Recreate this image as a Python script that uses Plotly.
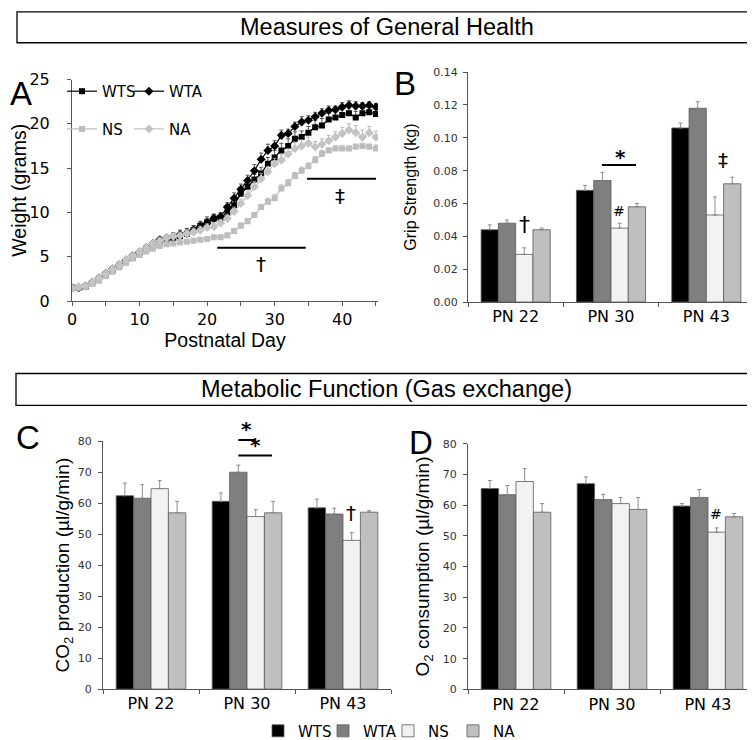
import plotly.graph_objects as go

# ---------------- DATA ----------------
days = list(range(0, 46))
weight_wts = [1.5, 1.5, 1.6, 2.0, 2.5, 3.0, 3.5, 4.0, 4.5, 5.0, 5.4, 5.9,
              6.3, 6.7, 6.9, 7.1, 7.3, 7.6, 8.0, 8.5, 8.9,
              9.3, 9.4, 10.0, 10.8, 12.1, 12.9, 13.7, 14.4, 15.5, 16.2,
              17.0, 17.5, 18.3, 18.5, 19.0, 19.6, 19.8, 20.5, 20.7, 21.0, 21.2, 20.7, 21.2, 21.3, 21.1]
weight_wta = [1.5, 1.5, 1.7, 2.1, 2.6, 3.1, 3.6, 4.1, 4.6, 5.1, 5.5, 6.0,
              6.5, 6.9, 7.1, 7.3, 7.5, 7.6, 8.0, 8.4, 8.8,
              9.3, 9.5, 10.6, 11.6, 12.6, 13.6, 14.7, 16.0, 17.0, 17.5,
              18.7, 18.9, 19.7, 20.2, 20.4, 20.8, 21.2, 21.5, 21.6, 21.9, 22.1, 22.0, 22.0, 22.1, 21.9]
weight_ns = [1.4, 1.5, 1.6, 1.9, 2.3, 2.8, 3.3, 3.8, 4.3, 4.8, 5.2, 5.6,
             5.9, 6.2, 6.4, 6.5, 6.6, 6.7, 6.8, 6.9, 7.0,
             7.2, 7.2, 7.4, 7.9, 8.5, 9.0, 9.7, 10.6, 11.2, 11.6,
             12.7, 13.3, 14.1, 14.7, 15.2, 15.9, 16.6, 17.0, 17.2, 17.2, 17.2, 17.4, 17.5, 17.4, 17.2]
weight_na = [1.5, 1.6, 1.7, 2.1, 2.6, 3.1, 3.6, 4.1, 4.7, 5.1, 5.6, 6.0,
             6.5, 6.8, 7.1, 7.3, 7.4, 7.6, 7.8, 8.0, 8.3,
             8.4, 8.8, 9.3, 10.1, 11.0, 11.9, 12.9, 13.8, 14.6, 15.5,
             15.9, 16.6, 17.2, 17.5, 17.8, 17.4, 17.7, 18.1, 18.5, 18.9, 19.3, 19.0, 18.5, 19.0, 18.5]
weight_wts_err = [0.2, 0.2, 0.2, 0.2, 0.2, 0.2, 0.3, 0.3, 0.3, 0.3, 0.3, 0.3,
                  0.3, 0.3, 0.3, 0.4, 0.4, 0.5, 0.5, 0.5, 0.6,
                  0.5, 0.5, 0.5, 0.6, 0.6, 0.6, 0.6, 0.7, 0.7, 0.8,
                  0.8, 0.8, 0.8, 0.7, 0.7, 0.8, 0.8, 0.7, 0.7, 0.6, 0.6, 0.7, 0.6, 0.6, 0.5]
weight_wta_err = [0.2, 0.2, 0.2, 0.2, 0.2, 0.3, 0.3, 0.3, 0.3, 0.3, 0.3, 0.3,
                  0.3, 0.3, 0.3, 0.4, 0.5, 0.6, 0.5, 0.5, 0.5,
                  0.5, 0.5, 0.5, 0.6, 0.6, 0.6, 0.7, 0.7, 0.7, 0.6,
                  0.6, 0.5, 0.5, 0.6, 0.5, 0.5, 0.5, 0.5, 0.4, 0.5, 0.5, 0.5, 0.4, 0.4, 0.4]
weight_ns_err = [0.2, 0.2, 0.2, 0.2, 0.2, 0.2, 0.2, 0.2, 0.2, 0.2, 0.2, 0.2,
                 0.2, 0.2, 0.2, 0.2, 0.2, 0.2, 0.2, 0.2, 0.2,
                 0.2, 0.2, 0.3, 0.3, 0.3, 0.3, 0.3, 0.3, 0.4, 0.4,
                 0.4, 0.4, 0.4, 0.4, 0.4, 0.4, 0.4, 0.3, 0.3, 0.3, 0.3, 0.3, 0.3, 0.3, 0.4]
weight_na_err = [0.2, 0.2, 0.2, 0.2, 0.2, 0.2, 0.3, 0.3, 0.3, 0.3, 0.3, 0.3,
                 0.3, 0.3, 0.3, 0.3, 0.3, 0.3, 0.4, 0.4, 0.4,
                 0.4, 0.4, 0.5, 0.5, 0.5, 0.5, 0.6, 0.6, 0.6, 0.6,
                 0.6, 0.6, 0.7, 0.7, 0.7, 0.6, 0.6, 0.6, 0.6, 0.7, 0.7, 0.8, 0.8, 0.7, 0.7]

ages = ["PN 22", "PN 30", "PN 43"]
groups = ["WTS", "WTA", "NS", "NA"]

grip = {"WTS": [0.044, 0.068, 0.106], "WTA": [0.048, 0.074, 0.118],
        "NS": [0.029, 0.045, 0.053], "NA": [0.044, 0.058, 0.072]}
grip_err = {"WTS": [0.003, 0.003, 0.003], "WTA": [0.002, 0.005, 0.004],
            "NS": [0.004, 0.003, 0.011], "NA": [0.001, 0.002, 0.004]}

co2 = {"WTS": [62.4, 60.6, 58.5], "WTA": [61.6, 70.0, 56.5],
       "NS": [64.7, 55.7, 48.0], "NA": [56.9, 56.9, 57.1]}
co2_err = {"WTS": [4.1, 2.7, 2.8], "WTA": [4.4, 2.3, 1.9],
           "NS": [2.6, 2.2, 2.5], "NA": [3.7, 3.7, 0.5]}

o2 = {"WTS": [65.4, 67.0, 59.7], "WTA": [63.4, 61.8, 62.5],
      "NS": [67.7, 60.5, 51.2], "NA": [57.7, 58.6, 56.2]}
o2_err = {"WTS": [2.6, 2.2, 0.8], "WTA": [3.0, 1.7, 2.6],
          "NS": [4.2, 2.0, 1.4], "NA": [2.8, 3.9, 1.1]}

# ---------------- STYLE ----------------
W, H = 755, 740
bar_colors = {"WTS": "#000000", "WTA": "#7f7f7f", "NS": "#f2f2f2", "NA": "#bfbfbf"}
SANS = "Liberation Sans, Arial, sans-serif"
VERD = "DejaVu Sans, Verdana, sans-serif"
CO2_MAX = 80


def hx(p):
    return p / W


def vy(p):
    return 1 - p / H


fig = go.Figure()

# ---- Panel A: weight curves ----
line_specs = [
    ("WTS", weight_wts, weight_wts_err, "#000000", "square", "legend", "#303030"),
    ("WTA", weight_wta, weight_wta_err, "#000000", "diamond", "legend2", "#303030"),
    ("NS", weight_ns, weight_ns_err, "#bdbdbd", "square", "legend3", "#a8a8a8"),
    ("NA", weight_na, weight_na_err, "#c4c4c4", "diamond", "legend4", "#a8a8a8"),
]
for name, vals, err, col, sym, leg, ecol in line_specs:
    fig.add_trace(go.Scatter(
        x=days, y=vals, name=name, mode="lines+markers",
        line=dict(color=col, width=1.2),
        marker=dict(symbol=sym, size=6 if sym == "square" else 7, color=col),
        error_y=dict(type="data", array=err, arrayminus=[0] * len(err), symmetric=False,
                     color=ecol, thickness=0.8, width=2),
        xaxis="x", yaxis="y", legend=leg, showlegend=True,
    ))

# ---- Bars: B, C, D ----
panels = [("x2", "y2", grip, grip_err, False),
          ("x3", "y3", co2, co2_err, True),
          ("x4", "y4", o2, o2_err, False)]
for xa, ya, data, errs, show in panels:
    for g in groups:
        fig.add_trace(go.Bar(
            x=ages, y=data[g], name=g,
            marker=dict(color=bar_colors[g], line=dict(color="#5a5a5a", width=0.8)),
            error_y=dict(type="data", array=errs[g], arrayminus=[0] * len(errs[g]),
                         symmetric=False, color="#808080", thickness=0.9, width=2),
            xaxis=xa, yaxis=ya, legend="legend5", showlegend=show,
        ))

axis_common = dict(showline=True, linecolor="#555555", linewidth=1, ticks="outside",
                   ticklen=4, tickcolor="#555555", showgrid=False, zeroline=False,
                   automargin=False)
small_tick = dict(family=VERD, size=11, color="#333333")
cat_tick = dict(family=VERD, size=16, color="black")
title_a = dict(family=SANS, size=19.5, color="black")
title_b = dict(family=SANS, size=16, color="black")
title_cd = dict(family=SANS, size=19, color="black")

fig.update_layout(
    width=W, height=H, margin=dict(l=0, r=0, t=0, b=0),
    paper_bgcolor="white", plot_bgcolor="white",
    barmode="group", bargap=0.275, bargroupgap=0,
    font=dict(family=VERD, color="black"),
    xaxis=dict(domain=[hx(64), hx(370)], anchor="y", range=[0, 45.3],
               tickmode="linear", tick0=0, dtick=10,
               minor=dict(ticks="outside", dtick=5, ticklen=4, tickcolor="#555555"),
               tickfont=dict(family=VERD, size=16, color="black"),
               title=dict(text="Postnatal Day", font=title_a, standoff=0),
               **axis_common),
    yaxis=dict(domain=[vy(295), vy(72)], anchor="x", range=[0, 25], dtick=5,
               tickfont=dict(family=VERD, size=16, color="black"), ticklabelstandoff=14,
               title=dict(text="Weight (grams)", font=title_a, standoff=0),
               **axis_common),
    xaxis2=dict(domain=[hx(460), hx(746)], anchor="y2", type="category",
                tickson="boundaries", tickfont=cat_tick, **axis_common),
    yaxis2=dict(domain=[vy(296), vy(64.6)], anchor="x2", range=[0, 0.14], dtick=0.02,
                tickformat=".2f", tickfont=small_tick, ticklabelstandoff=3,
                title=dict(text="Grip Strength (kg)", font=title_b, standoff=12),
                **axis_common),
    xaxis3=dict(domain=[hx(95), hx(383)], anchor="y3", type="category",
                tickson="boundaries", tickfont=cat_tick, **axis_common),
    yaxis3=dict(domain=[vy(685.7), vy(436.2)], anchor="x3", range=[0, CO2_MAX], dtick=10,
                tickfont=small_tick, ticklabelstandoff=4,
                title=dict(text="CO<sub>2</sub> production (µl/g/min)", font=title_cd, standoff=3),
                **axis_common),
    xaxis4=dict(domain=[hx(460), hx(748)], anchor="y4", type="category",
                tickson="boundaries", tickfont=cat_tick, **axis_common),
    yaxis4=dict(domain=[vy(686), vy(438.7)], anchor="x4", range=[0, 80], dtick=10,
                tickfont=small_tick, ticklabelstandoff=4,
                title=dict(text="O<sub>2</sub> consumption (µl/g/min)", font=title_cd, standoff=8),
                **axis_common),
)

leg_common = dict(orientation="h", bgcolor="rgba(0,0,0,0)", borderwidth=0,
                  font=dict(family=VERD, size=15, color="black"), yanchor="middle",
                  xanchor="left", itemwidth=30, tracegroupgap=0)
fig.update_layout(
    legend=dict(x=hx(54), y=vy(84), **leg_common),
    legend2=dict(x=hx(121), y=vy(84), **leg_common),
    legend3=dict(x=hx(54), y=vy(122), **leg_common),
    legend4=dict(x=hx(121), y=vy(122), **leg_common),
    legend5=dict(orientation="h", x=hx(380), y=vy(728), xanchor="center", yanchor="middle",
                 font=dict(family=VERD, size=15, color="black"), bgcolor="rgba(0,0,0,0)",
                 itemwidth=30, entrywidth=20, traceorder="normal"),
)

shapes = []
annotations = []

# section header boxes
for (x0, x1, y0, y1, text) in [(9, 748, 4, 35, "Measures of General Health"),
                               (8, 749, 368, 400, "Metabolic Function (Gas exchange)")]:
    shapes.append(dict(type="rect", xref="paper", yref="paper", x0=hx(x0), x1=hx(x1),
                       y0=vy(y1), y1=vy(y0), line=dict(color="black", width=1.3),
                       fillcolor="white", layer="below"))
    annotations.append(dict(text=text, xref="paper", yref="paper", x=hx((x0 + x1) / 2),
                            y=vy((y0 + y1) / 2), showarrow=False,
                            font=dict(family=SANS, size=23.5, color="black"),
                            xanchor="center", yanchor="middle"))

# panel letters
for letter, lx, ly in [("A", 13, 86), ("B", 397, 76), ("C", 20, 432), ("D", 413, 437)]:
    annotations.append(dict(text=letter, xref="paper", yref="paper", x=hx(lx), y=vy(ly),
                            showarrow=False, xanchor="center", yanchor="middle",
                            font=dict(family=SANS, size=33, color="black")))

sym_font = dict(family=VERD, size=20, color="black")
star_font = dict(family=VERD, size=20, color="black")


def mark(text, xref, yref, x, y, font):
    annotations.append(dict(text=text, xref=xref, yref=yref, x=x, y=y, showarrow=False,
                            xanchor="center", yanchor="middle", font=font))


# Panel A significance bars
shapes.append(dict(type="line", xref="x", yref="y", x0=21.5, x1=34.6, y0=6.0, y1=6.0,
                   line=dict(color="black", width=2)))
mark("†", "x", "y", 28, 4.2, sym_font)
shapes.append(dict(type="line", xref="x", yref="y", x0=34.8, x1=45.0, y0=13.8, y1=13.8,
                   line=dict(color="black", width=2)))
mark("‡", "x", "y", 39.6, 11.8, sym_font)

# Panel B
mark("†", "x2", "y2", 0.09, 0.047, dict(family=VERD, size=22, color="black"))
mark("#", "x2", "y2", 1.08, 0.0555, dict(family=VERD, size=14, color="black"))
shapes.append(dict(type="line", xref="x2", yref="y2", x0=0.905, x1=1.262, y0=0.0834, y1=0.0834,
                   line=dict(color="black", width=2)))
mark("<b>*</b>", "x2", "y2", 1.1, 0.0885, star_font)
mark("‡", "x2", "y2", 2.17, 0.0865, sym_font)

# Panel C (upper marks sit above the axis top, so use the axis-domain reference)
shapes.append(dict(type="line", xref="x3", yref="y3 domain", x0=0.91, x1=1.083,
                   y0=80.4 / CO2_MAX, y1=80.4 / CO2_MAX, line=dict(color="black", width=2)))
mark("<b>*</b>", "x3", "y3 domain", 0.993, 84.0 / CO2_MAX, star_font)
shapes.append(dict(type="line", xref="x3", yref="y3 domain", x0=0.91, x1=1.26,
                   y0=75.4 / CO2_MAX, y1=75.4 / CO2_MAX, line=dict(color="black", width=2)))
mark("<b>*</b>", "x3", "y3 domain", 1.086, 78.8 / CO2_MAX, star_font)
mark("†", "x3", "y3", 2.086, 57, sym_font)

# Panel D
mark("#", "x4", "y4", 2.088, 57.2, dict(family=VERD, size=14, color="black"))

fig.update_layout(shapes=shapes, annotations=annotations)

fig.write_html("out.html")
